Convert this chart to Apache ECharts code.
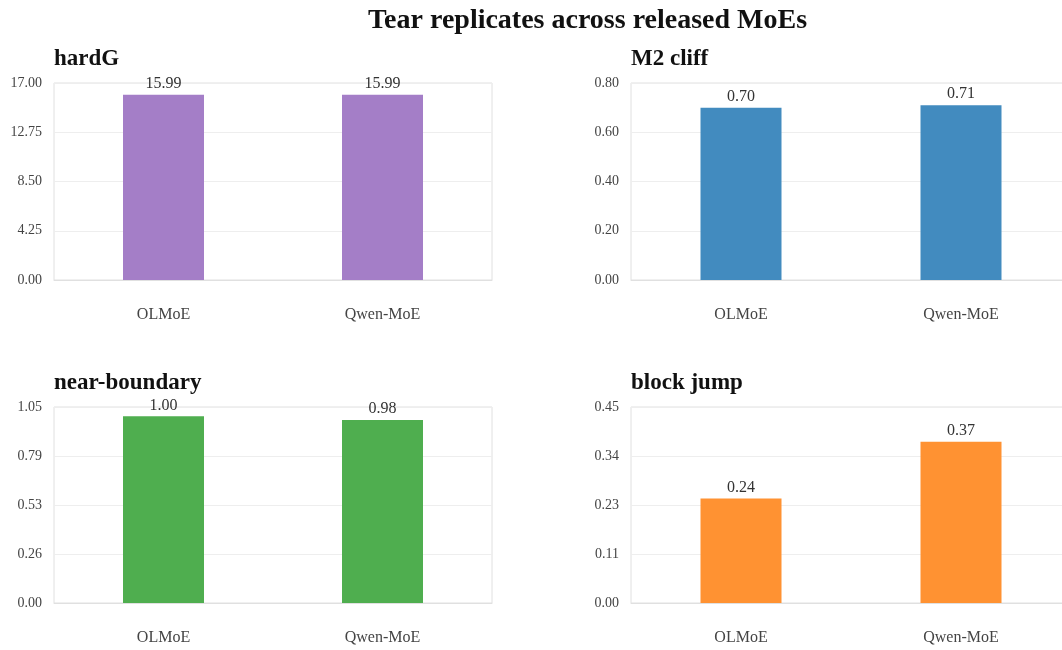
<!DOCTYPE html>
<html>
<head>
<meta charset="utf-8">
<script src="https://cdn.jsdelivr.net/npm/echarts@6/dist/echarts.min.js"></script>
<style>
  html, body { margin: 0; padding: 0; background: #fff; overflow: hidden; }
  /* a bit wider than the window: right column is cut off like the original */
  #chart { width: 1071px; height: 650px; }
</style>
</head>
<body>
<div id="chart"></div>
<script>
  const models = ['OLMoE', 'Qwen-MoE'];
  const panelTitles = ['hardG', 'M2 cliff', 'near-boundary', 'block jump'];
  const hardG = [15.99, 15.99];
  const m2Cliff = [0.70, 0.71];
  const nearBoundary = [1.00, 0.98];
  const blockJump = [0.24, 0.37];
  const yMax = [17, 0.8, 1.05, 0.45];
  const colors = ['#a47ec7', '#428bbf', '#4fae4f', '#ff9232'];

  const panelData = [hardG, m2Cliff, nearBoundary, blockJump];
  const font = '"Liberation Serif", "DejaVu Serif", serif';

  // grid boxes (pixels)
  const boxes = [
    { left: 54, top: 83, width: 438, height: 197 },
    { left: 631, top: 83, width: 440, height: 197 },
    { left: 54, top: 407, width: 438, height: 196 },
    { left: 631, top: 407, width: 440, height: 196 }
  ];

  const chart = echarts.init(document.getElementById('chart'));

  const titles = [{
    text: 'Tear replicates across released MoEs',
    left: 368,
    top: 7,
    padding: 0,
    textStyle: { fontFamily: font, fontSize: 28, fontWeight: 'bold', color: '#111' }
  }];
  const grids = [], xAxes = [], yAxes = [], series = [];

  boxes.forEach((b, i) => {
    titles.push({
      text: panelTitles[i],
      left: b.left,
      top: b.top - 35,
      padding: 0,
      textStyle: { fontFamily: font, fontSize: 23, fontWeight: 'bold', color: '#111' }
    });
    grids.push({
      left: b.left, top: b.top, width: b.width, height: b.height,
      show: true, borderColor: '#e0e0e0', borderWidth: 1, backgroundColor: 'transparent'
    });
    xAxes.push({
      type: 'category',
      gridIndex: i,
      data: models,
      axisLine: { show: true, lineStyle: { color: '#e0e0e0' } },
      axisTick: { show: false },
      axisLabel: { margin: 27, fontFamily: font, fontSize: 16, color: '#444' }
    });
    yAxes.push({
      type: 'value',
      gridIndex: i,
      min: 0,
      max: yMax[i],
      interval: yMax[i] / 4,
      axisLine: { show: false },
      axisTick: { show: false },
      splitLine: { lineStyle: { color: '#eeeeee' } },
      axisLabel: {
        margin: 12, fontFamily: font, fontSize: 14, color: '#444',
        formatter: v => v.toFixed(2)
      }
    });
    series.push({
      type: 'bar',
      xAxisIndex: i,
      yAxisIndex: i,
      data: panelData[i],
      barWidth: 81,
      itemStyle: { color: colors[i] },
      label: {
        show: true,
        position: 'top',
        distance: 3,
        fontFamily: font,
        fontSize: 16,
        color: '#333',
        formatter: p => p.value.toFixed(2)
      }
    });
  });

  chart.setOption({
    backgroundColor: '#fff',
    animation: false,
    title: titles,
    grid: grids,
    xAxis: xAxes,
    yAxis: yAxes,
    series: series
  });
</script>
</body>
</html>
